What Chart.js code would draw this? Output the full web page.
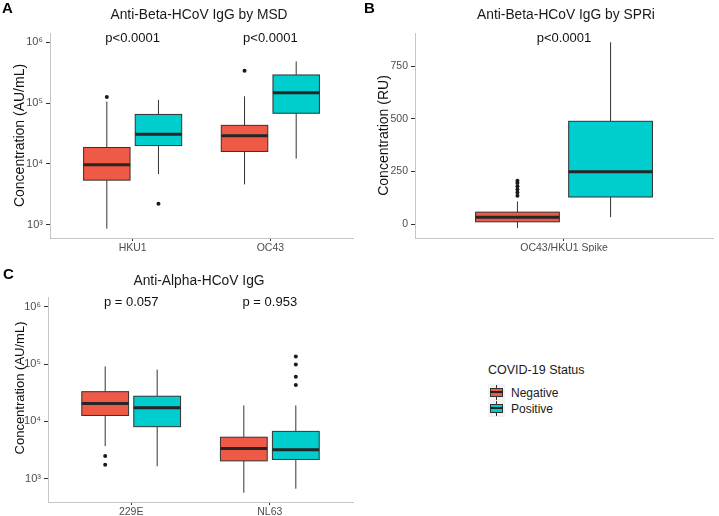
<!DOCTYPE html>
<html>
<head>
<meta charset="utf-8">
<script src="https://cdn.jsdelivr.net/npm/chart.js@4.4.1/dist/chart.umd.min.js"></script>
<style>
  html, body { margin: 0; padding: 0; background: #ffffff; }
  #wrap { position: relative; width: 719px; height: 516px; background: #ffffff; overflow: hidden;
          font-family: 'Liberation Sans', Arial, Helvetica, sans-serif; color: #1a1a1a; }
  canvas { position: absolute; }
  .lbl { position: absolute; white-space: nowrap; line-height: 1; }
  .letter { font-weight: bold; font-size: 15px; color: #000; }
  .ttl { font-size: 13.8px; transform: translateX(-50%); }
  .key { position: absolute; width: 17px; height: 17px; background: #f2f2f2; }
  .key .wh { position: absolute; left: 8px; top: 1px; width: 1px; height: 15px; background: #333; }
  .key .bx { position: absolute; left: 2px; top: 4px; width: 11px; height: 7px; border: 1px solid #333; }
  .key .md { position: absolute; left: 2px; top: 7px; width: 13px; height: 2px; background: #222; }
</style>
</head>
<body>
<div id="wrap">
  <canvas id="cA" width="360" height="260" style="left:0;top:0"></canvas>
  <canvas id="cB" width="359" height="260" style="left:360px;top:0"></canvas>
  <canvas id="cC" width="360" height="260" style="left:0;top:256px"></canvas>

  <div class="lbl letter" style="left:2px;top:0px">A</div>
  <div class="lbl letter" style="left:364px;top:0px">B</div>
  <div class="lbl letter" style="left:3px;top:266px">C</div>

  <div class="lbl ttl" style="left:199px;top:8px">Anti-Beta-HCoV IgG by MSD</div>
  <div class="lbl ttl" style="left:566px;top:8px">Anti-Beta-HCoV IgG by SPRi</div>
  <div class="lbl ttl" style="left:199px;top:274px">Anti-Alpha-HCoV IgG</div>

  <div class="lbl" style="left:488px;top:364px;font-size:12.5px;">COVID-19 Status</div>
  <div class="key" style="left:488px;top:384px"><div class="wh"></div><div class="bx" style="background:#EE5A45"></div><div class="md"></div></div>
  <div class="key" style="left:488px;top:400px"><div class="wh"></div><div class="bx" style="background:#00CDCD"></div><div class="md"></div></div>
  <div class="lbl" style="left:511px;top:387px;font-size:12px;">Negative</div>
  <div class="lbl" style="left:511px;top:403px;font-size:12px;">Positive</div>
</div>

<script>
// ---------------- DATA ----------------
// Box stats: [lower whisker, Q1, median, Q3, upper whisker]
const msdCategories = ['HKU1', 'OC43'];
const msdNegative = [[860, 5400, 9700, 18600, 106000], [4600, 16000, 29000, 43000, 129000]];
const msdPositive = [[6800, 20000, 30800, 65000, 113000], [12200, 68000, 148000, 290000, 485000]];
const msdNegOutliers = [[126000], [340000]];
const msdPosOutliers = [[2200], []];
const msdPLabels = ['p<0.0001', 'p<0.0001'];

const spriCategories = ['OC43/HKU1 Spike'];
const spriNegative = [[-19, 11, 33, 57, 108]];
const spriPositive = [[33, 129, 249, 489, 865]];
const spriNegOutliers = [[135, 150, 165, 180, 195, 206]];
const spriPosOutliers = [[]];
const spriPLabels = ['p<0.0001'];

const alphaCategories = ['229E', 'NL63'];
const alphaNegative = [[3700, 12700, 20500, 33000, 91000], [570, 2050, 3360, 5300, 19000]];
const alphaPositive = [[1650, 8100, 17300, 27500, 80000], [670, 2170, 3200, 6700, 19000]];
const alphaNegOutliers = [[2500, 1750], []];
const alphaPosOutliers = [[], [43000, 60000, 98000, 136000]];
const alphaPLabels = ['p = 0.057', 'p = 0.953'];

const logTicks = [1e3, 1e4, 1e5, 1e6];
const linTicks = [0, 250, 500, 750];

// ---------------- STYLE ----------------
const FONT = "'Liberation Sans', Arial, Helvetica, sans-serif";
const NEG_COLOR = '#EE5A45';
const POS_COLOR = '#00CDCD';
const DODGE = 0.1875;
const HALF_W = 0.16875;
Chart.defaults.font.family = FONT;

const sup = {'0':'⁰','1':'¹','2':'²','3':'³','4':'⁴','5':'⁵','6':'⁶','7':'⁷','8':'⁸','9':'⁹'};
function pow10Label(v) {
  const e = Math.round(Math.log10(v));
  return '10' + String(e).split('').map(c => sup[c]).join('');
}

const boxPlugin = {
  id: 'boxes',
  beforeDatasetsDraw(chart) {
    const o = chart.options.plugins.boxes;
    const {ctx} = chart;
    const xs = chart.scales.x, ys = chart.scales.y;
    ctx.save();
    o.groups.forEach(g => {
      const [lo, q1, med, q3, hi] = g.stats;
      const cx = xs.getPixelForValue(g.pos);
      const xl = xs.getPixelForValue(g.pos - HALF_W);
      const xr = xs.getPixelForValue(g.pos + HALF_W);
      const yLo = ys.getPixelForValue(lo), yQ1 = ys.getPixelForValue(q1);
      const yMed = ys.getPixelForValue(med), yQ3 = ys.getPixelForValue(q3);
      const yHi = ys.getPixelForValue(hi);
      ctx.strokeStyle = '#333333';
      ctx.lineWidth = 1;
      ctx.beginPath();
      ctx.moveTo(cx, yHi); ctx.lineTo(cx, yQ3);
      ctx.moveTo(cx, yQ1); ctx.lineTo(cx, yLo);
      ctx.stroke();
      ctx.fillStyle = g.color;
      ctx.fillRect(xl, yQ3, xr - xl, yQ1 - yQ3);
      ctx.strokeRect(xl, yQ3, xr - xl, yQ1 - yQ3);
      ctx.strokeStyle = '#262626';
      ctx.lineWidth = 3;
      ctx.beginPath();
      ctx.moveTo(xl, yMed); ctx.lineTo(xr, yMed);
      ctx.stroke();
    });
    ctx.restore();
  },
  afterDatasetsDraw(chart) {
    const o = chart.options.plugins.boxes;
    const {ctx} = chart;
    const xs = chart.scales.x, ys = chart.scales.y;
    ctx.save();
    ctx.fillStyle = '#111111';
    ctx.font = '13px ' + FONT;
    ctx.textAlign = 'center';
    ctx.textBaseline = 'alphabetic';
    o.pLabels.forEach((t, i) => {
      ctx.fillText(t, xs.getPixelForValue(i + 1), ys.getPixelForValue(o.pLabelY) - 0.5);
    });
    if (o.sideTitle) {
      ctx.translate(o.sideTitle.x, o.sideTitle.y);
      ctx.rotate(-Math.PI / 2);
      ctx.font = o.sideTitle.size + 'px ' + FONT;
      ctx.textBaseline = 'middle';
      ctx.fillText(o.sideTitle.text, 0, 0);
    }
    ctx.restore();
  }
};

function buildGroups(neg, pos) {
  const g = [];
  neg.forEach((s, i) => g.push({pos: i + 1 - DODGE, stats: s, color: NEG_COLOR}));
  pos.forEach((s, i) => g.push({pos: i + 1 + DODGE, stats: s, color: POS_COLOR}));
  return g;
}
function buildOutliers(negO, posO) {
  const pts = [];
  negO.forEach((arr, i) => arr.forEach(v => pts.push({x: i + 1 - DODGE, y: v})));
  posO.forEach((arr, i) => arr.forEach(v => pts.push({x: i + 1 + DODGE, y: v})));
  return pts;
}

function makeChart(id, cfg) {
  const tickFont = {size: 10.5, family: FONT};
  new Chart(document.getElementById(id), {
    type: 'scatter',
    data: {
      datasets: [{
        data: buildOutliers(cfg.negO, cfg.posO),
        pointRadius: 2,
        pointBackgroundColor: '#1a1a1a',
        pointBorderColor: '#1a1a1a',
        pointBorderWidth: 0,
        pointHoverRadius: 2
      }]
    },
    options: {
      responsive: false,
      animation: false,
      devicePixelRatio: 1,
      layout: {padding: cfg.padding},
      plugins: {
        legend: {display: false},
        tooltip: {enabled: false},
        title: {display: false},
        boxes: {groups: buildGroups(cfg.neg, cfg.pos), pLabels: cfg.pLabels, pLabelY: cfg.pLabelY,
                sideTitle: cfg.sideTitle || null}
      },
      scales: {
        x: {
          type: 'linear',
          min: 0.4,
          max: cfg.categories.length + 0.6,
          afterBuildTicks: s => { s.ticks = cfg.categories.map((c, i) => ({value: i + 1})); },
          afterFit: s => { s.height = 14; },
          ticks: {
            callback: v => cfg.categories[Math.round(v) - 1],
            color: '#4d4d4d', font: tickFont, padding: 1, maxRotation: 0, autoSkip: false
          },
          grid: {drawOnChartArea: false, drawTicks: true, tickLength: 3, color: '#333333', lineWidth: 1},
          border: {display: true, color: '#c6c6c6', width: 1}
        },
        y: {
          type: cfg.log ? 'logarithmic' : 'linear',
          min: cfg.yMin,
          max: cfg.yMax,
          afterBuildTicks: s => { s.ticks = cfg.yTicks.map(v => ({value: v})); },
          afterFit: s => { s.width = cfg.yWidth; },
          ticks: {
            callback: v => cfg.log ? pow10Label(v) : String(v),
            color: '#4d4d4d', font: {size: cfg.log ? 11 : 10.5, family: FONT}, padding: 3, autoSkip: false
          },
          grid: {drawOnChartArea: false, drawTicks: true, tickLength: 4, color: '#333333', lineWidth: 1},
          border: {display: true, color: '#c6c6c6', width: 1},
          title: {
            display: !!cfg.yTitle, text: cfg.yTitle || '', color: '#111111',
            font: {size: cfg.yTitleSize, family: FONT},
            padding: {top: cfg.yTitlePad, bottom: 0}
          }
        }
      }
    },
    plugins: [boxPlugin]
  });
}

makeChart('cA', {
  categories: msdCategories, neg: msdNegative, pos: msdPositive,
  negO: msdNegOutliers, posO: msdPosOutliers, pLabels: msdPLabels, pLabelY: 1e6,
  log: true, yMin: 604, yMax: 1.42e6, yTicks: logTicks, yWidth: 50,
  yTitle: 'Concentration (AU/mL)', yTitleSize: 14, yTitlePad: 12,
  padding: {left: 0, right: 7, top: 33, bottom: 8}
});

makeChart('cB', {
  categories: spriCategories, neg: spriNegative, pos: spriPositive,
  negO: spriNegOutliers, posO: spriPosOutliers, pLabels: spriPLabels, pLabelY: 865,
  log: false, yMin: -66, yMax: 909, yTicks: linTicks, yWidth: 55,
  yTitle: 'Concentration (RU)', yTitleSize: 14, yTitlePad: 16,
  padding: {left: 0, right: 6, top: 33, bottom: 8}
});

makeChart('cC', {
  categories: alphaCategories, neg: alphaNegative, pos: alphaPositive,
  negO: alphaNegOutliers, posO: alphaPosOutliers, pLabels: alphaPLabels, pLabelY: 1e6,
  log: true, yMin: 393, yMax: 1.45e6, yTicks: logTicks, yWidth: 48,
  yTitle: '', yTitleSize: 13, yTitlePad: 13,
  sideTitle: {text: 'Concentration (AU/mL)', x: 20, y: 132, size: 13},
  padding: {left: 0, right: 7, top: 41.5, bottom: 0}
});
</script>
</body>
</html>
